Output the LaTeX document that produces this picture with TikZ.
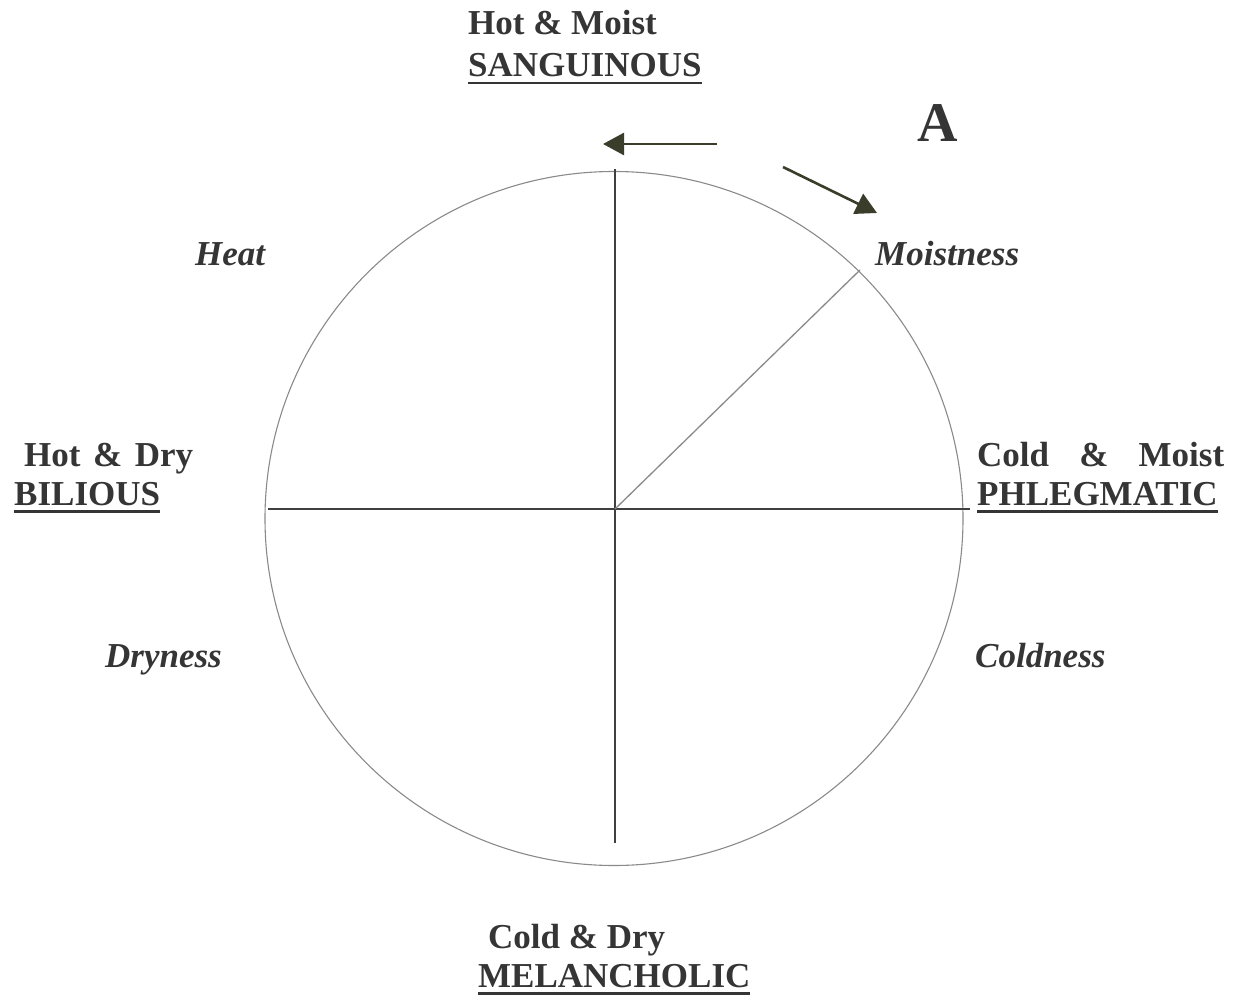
\documentclass[tikz,border=0pt]{standalone}
\usepackage{fontspec}
\setmainfont{Liberation Serif}
\newsavebox\ulbox
\newcommand\ulbar[1]{\sbox\ulbox{#1}\rlap{\rule[-7.5pt]{\wd\ulbox}{2.2pt}}\usebox\ulbox}
\usetikzlibrary{arrows.meta}
\definecolor{ink}{HTML}{353535}
\definecolor{axis}{HTML}{404040}
\definecolor{rim}{HTML}{8A8A8A}
\definecolor{olive}{HTML}{3A3D2A}
\tikzset{
  lbl/.style={anchor=base west, inner sep=0pt, text=ink, font=\fontsize{35}{42}\selectfont\bfseries},
  ilbl/.style={lbl, font=\fontsize{35}{42}\selectfont\bfseries\itshape},
  axisline/.style={draw=axis, line width=1.6pt},
  arr/.style={draw=olive, line width=2.6pt, -{Triangle[length=21pt,width=22pt]}}
}
\begin{document}
\begin{tikzpicture}[x=1pt,y=-1pt]
\useasboundingbox (0,0) rectangle (1239,995);
% circle
\draw[rim, line width=1.1pt] (614,518.5) ellipse [x radius=349, y radius=347];
% axes
\coordinate (c) at (615,509);
\coordinate (top) at (615,169);
\coordinate (bot) at (615,843);
\coordinate (lft) at (268,509);
\coordinate (rgt) at (970,509);
\coordinate (moistpt) at (860,270);
\draw[axisline] (top) -- (bot);
\draw[axisline] (lft) -- (rgt);
\draw[rim, line width=1.3pt] (c) -- (moistpt);
% arrows
\coordinate (a1s) at (717,144);
\coordinate (a1e) at (603,144);
\coordinate (a2s) at (783,167);
\coordinate (a2e) at (877,213);
\draw[arr] (a1s) -- (a1e);
\draw[arr] (a2s) -- (a2e);
% labels
\node[lbl] (hm) at (468,35) {Hot \& Moist};
\node[lbl] (sang) at (468,77) {\ulbar{SANGUINOUS}};
\node[lbl, font=\fontsize{56}{60}\selectfont\bfseries] (A) at (917,142) {A};
\node[ilbl] (heat) at (195,265) {Heat};
\node[ilbl] (moist) at (875,265) {Moistness};
\node[lbl] (hd) at (24,466) {\makebox[169pt][s]{Hot \& Dry}};
\node[lbl] (bil) at (14,505) {\ulbar{BILIOUS}};
\node[lbl] (cm) at (977,466) {\makebox[247pt][s]{Cold \& Moist}};
\node[lbl] (phl) at (977,505) {\ulbar{PHLEGMATIC}};
\node[ilbl] (dry) at (105,667) {Dryness};
\node[ilbl] (cold) at (975,667) {Coldness};
\node[lbl] (cd) at (488,948) {Cold \& Dry};
\node[lbl] (mel) at (478,987) {\ulbar{MELANCHOLIC}};
\end{tikzpicture}
\end{document}
